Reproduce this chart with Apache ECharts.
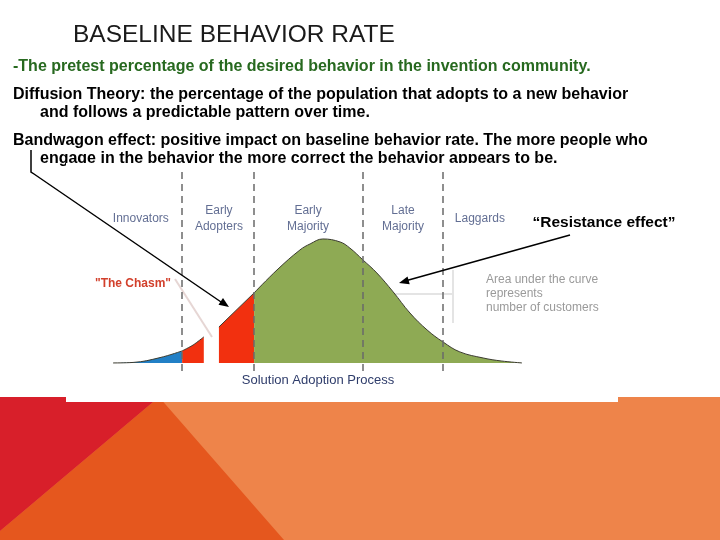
<!DOCTYPE html>
<html>
<head>
<meta charset="utf-8">
<script src="https://cdn.jsdelivr.net/npm/echarts@6/dist/echarts.min.js"></script>
<style>html,body{margin:0;padding:0;background:#fff}#c{width:720px;height:540px}</style>
</head>
<body>
<div id="c"></div>
<script>
// ---- data (x: adoption time 0-100, y: relative adopters 0-100) ----
const innovatorsCurve = [[0,0],[4.9,0.4],[11.5,4.3],[16.9,9.7]];
const earlyAdoptersLeft = [[16.9,9.7],[19.6,14.5],[22.2,21]];
const earlyAdoptersRight = [[25.9,29],[34.5,56.5]];
const majorityCurve = [[34.5,56.5],[40.1,75],[45.7,91.1],[48.2,96],[51.3,100],[55.5,97.6],[57.9,92.7],[61.1,83.1],[64.5,72.6],[68.5,57.3],[72.6,40.3],[76.8,26.6],[80.7,16.9],[84.8,8.9],[90.5,4],[94.9,1.6],[100,0]];
const stageBoundaries = [16.9, 34.5, 61.1, 80.7];
const stageNames = ['Innovators','Early\nAdopters','Early\nMajority','Late\nMajority','Laggards'];
const stageLabelX = [6.8, 25.9, 47.7, 70.9, 89.7];
const stageLabelY = 116.5;
const titleText = 'BASELINE BEHAVIOR RATE';
const bodyLines = [
  '-The pretest percentage of the desired behavior in the invention community.',
  'Diffusion Theory: the percentage of the population that adopts to a new behavior',
  'and follows a predictable pattern over time.',
  'Bandwagon effect: positive impact on baseline behavior rate. The more people who',
  'engage in the behavior the more correct the behavior appears to be.'
];

function arrowHead(x1,y1,x2,y2,len,w){
  const a = Math.atan2(y2-y1,x2-x1);
  const bx = x2 - len*Math.cos(a), by = y2 - len*Math.sin(a);
  const nx = -Math.sin(a)*w, ny = Math.cos(a)*w;
  return [[x2,y2],[bx+nx,by+ny],[bx-nx,by-ny]];
}

const FONT = '"Liberation Sans", Arial, sans-serif';
const bodyPos = [[13,67,'#27691f'],[13,95,'#000'],[40,113,'#000'],[13,141,'#000'],[40,159,'#000']];

const graphics = [
  // background band
  {type:'rect', z:0, shape:{x:0,y:397,width:720,height:143}, style:{fill:'#EE844A'}},
  {type:'polygon', z:0, shape:{points:[[159,397],[284,540],[0,540],[0,531]]}, style:{fill:'#E5571E'}},
  {type:'polygon', z:0, shape:{points:[[0,397],[159,397],[0,531]]}, style:{fill:'#D81F2A'}},
  // title
  {type:'text', z:0, style:{text:titleText, x:73, y:35, font:'24.5px '+FONT, fill:'#1a1a1a', textVerticalAlign:'middle'}},
];
bodyLines.forEach((t,i)=>{
  graphics.push({type:'text', z:0, style:{text:t, x:bodyPos[i][0], y:bodyPos[i][1], font:'bold 16px '+FONT, fill:bodyPos[i][2], textVerticalAlign:'middle'}});
});
graphics.push(
  // image panel
  {type:'rect', z:1, shape:{x:66,y:163,width:552,height:239}, style:{fill:'#fff'}},
  // faint guide lines
  {type:'polyline', z:1.5, shape:{points:[[175,279],[212,337]]}, style:{stroke:'#e6d6d4', lineWidth:2, fill:null}},
  {type:'polyline', z:1.5, shape:{points:[[393,294],[453,294]]}, style:{stroke:'#e4e4e4', lineWidth:2, fill:null}},
  {type:'polyline', z:1.5, shape:{points:[[453,270],[453,323]]}, style:{stroke:'#e4e4e4', lineWidth:2, fill:null}},
  // chart texts
  {type:'text', z:5, style:{text:'"The Chasm"', x:133, y:284, font:'bold 12px '+FONT, fill:'#d2402c', textAlign:'center', textVerticalAlign:'middle'}},
  {type:'text', z:5, style:{text:'Solution Adoption Process', x:318, y:380, font:'13px '+FONT, fill:'#2f3d6b', textAlign:'center', textVerticalAlign:'middle'}},
  {type:'text', z:5, style:{text:'Area under the curve\nrepresents\nnumber of customers', x:486, y:294, font:'12px '+FONT, lineHeight:14, fill:'#9a9a9a', textVerticalAlign:'middle'}},
  {type:'text', z:5, style:{text:'\u201CResistance effect\u201D', x:604, y:223, font:'bold 15.5px '+FONT, fill:'#000', textAlign:'center', textVerticalAlign:'middle'}},
  // bandwagon connector arrow
  {type:'polyline', z:10, shape:{points:[[31,150],[31,172],[34,174],[224,304]]}, style:{stroke:'#000', lineWidth:1.5, fill:null}},
  {type:'polygon', z:10, shape:{points:arrowHead(34,174,229,307,10,4)}, style:{fill:'#000'}},
  // resistance arrow
  {type:'polyline', z:10, shape:{points:[[570,235],[405,281]]}, style:{stroke:'#000', lineWidth:1.5, fill:null}},
  {type:'polygon', z:10, shape:{points:arrowHead(570,235,399,283,10,4)}, style:{fill:'#000'}}
);

const lineCol = '#3a3a2e';
const chart = echarts.init(document.getElementById('c'), null, {renderer:'canvas'});
chart.setOption({
  animation:false,
  backgroundColor:'#fff',
  graphic: graphics,
  grid:{left:113, right:198, top:172, bottom:169},
  xAxis:{type:'value', min:0, max:100, axisLine:{show:true, onZero:true, lineStyle:{color:'#333', width:1}}, axisTick:{show:false}, axisLabel:{show:false}, splitLine:{show:false}},
  yAxis:{type:'value', min:-6.5, max:154, show:false, splitLine:{show:false}},
  series:[
    {type:'line', data:innovatorsCurve, smooth:0.4, symbol:'none', lineStyle:{color:lineCol, width:1}, areaStyle:{color:'#2280c6', opacity:1}},
    {type:'line', data:earlyAdoptersLeft, smooth:0.3, symbol:'none', lineStyle:{color:lineCol, width:1}, areaStyle:{color:'#f2300f', opacity:1}},
    {type:'line', data:earlyAdoptersRight, symbol:'none', lineStyle:{color:lineCol, width:1}, areaStyle:{color:'#f2300f', opacity:1}},
    {type:'line', data:majorityCurve, smooth:0.4, symbol:'none', lineStyle:{color:lineCol, width:1}, areaStyle:{color:'#8eaa54', opacity:1},
      markLine:{silent:true, symbol:'none', label:{show:false}, lineStyle:{color:'#6a6a6a', width:1.5, type:[7,5]},
        data: stageBoundaries.map(v=>({xAxis:v}))}},
    {type:'scatter', symbolSize:0, data: stageNames.map((n,i)=>({name:n, value:[stageLabelX[i], stageLabelY]})),
      label:{show:true, position:'inside', formatter:'{b}', color:'#3b4a78', fontSize:12, fontFamily:FONT, lineHeight:15.5, align:'center', verticalAlign:'middle'}}
  ]
});
</script>
</body>
</html>
